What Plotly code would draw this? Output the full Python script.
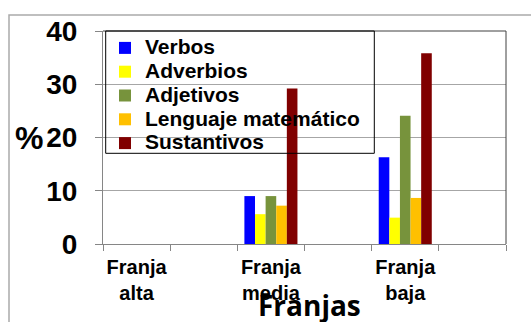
import plotly.graph_objects as go

# Categories (bands) and percentage of each word type per band
franjas = ["Franja alta", "Franja media", "Franja baja"]
verbos = [0, 9.0, 16.3]
adverbios = [0, 5.6, 4.95]
adjetivos = [0, 9.0, 24.1]
lenguaje_matematico = [0, 7.2, 8.65]
sustantivos = [0, 29.2, 35.8]

series = [
    ("Verbos", verbos, "#0000FF"),
    ("Adverbios", adverbios, "#FFFF00"),
    ("Adjetivos", adjetivos, "#77933C"),
    ("Lenguaje matemático", lenguaje_matematico, "#FFC000"),
    ("Sustantivos", sustantivos, "#800000"),
]

# Each band is followed by an empty slot on the category axis
slots = []
for i, f in enumerate(franjas):
    slots.append(f.replace(" ", "<br>"))
    slots.append(" " * (i + 1))

fig = go.Figure()
for name, vals, color in series:
    y = []
    for v in vals:
        y.extend([v, None])
    fig.add_trace(go.Bar(
        x=slots, y=y,
        name=f'<span style="font-size:21px">{name}</span>',
        marker=dict(color=color, line=dict(width=0)),
    ))

W, H = 531, 322
L, R, T, B = 103, 25, 31, 78
pw, ph = W - L - R, H - T - B


def px(xp):
    return (xp - L) / pw


def py(yp):
    return (H - B - yp) / ph


fig.update_layout(
    width=W, height=H,
    margin=dict(l=L, r=R, t=T, b=B),
    paper_bgcolor="white", plot_bgcolor="white",
    barmode="group", bargap=0.21, bargroupgap=0,
    font=dict(family="Liberation Sans, Arial, sans-serif", color="black"),
    showlegend=True,
    legend=dict(
        x=px(105), y=1.0, xanchor="left", yanchor="top",
        bgcolor="rgba(0,0,0,0)", borderwidth=0,
        font=dict(size=16, weight="bold", color="black"),
        tracegroupgap=0,
    ),
    xaxis=dict(
        type="category", categoryorder="array", categoryarray=slots,
        range=[-0.5, 5.5], automargin=False, tickangle=0,
        tickson="boundaries", ticks="outside", ticklen=6,
        tickcolor="#868686", showline=True, linecolor="#868686", linewidth=1,
        showgrid=False,
        tickfont=dict(size=20, weight="bold", color="black"),
        ticklabelstandoff=5,
    ),
    yaxis=dict(
        range=[0, 40], dtick=10, tick0=0, automargin=False,
        ticks="outside", ticklen=7, tickcolor="#868686",
        showline=True, linecolor="#868686", linewidth=1,
        showgrid=True, gridcolor="#A6A6A6", gridwidth=1,
        zeroline=False,
        tickfont=dict(size=28, weight="bold", color="black"),
        ticklabelstandoff=12,
    ),
    shapes=[
        # plot area frame (top and right)
        dict(type="line", xref="paper", yref="paper", x0=0, x1=1, y0=1, y1=1,
             line=dict(color="#404040", width=1)),
        dict(type="line", xref="paper", yref="paper", x0=1, x1=1, y0=0, y1=1,
             line=dict(color="#404040", width=1)),
        # legend box
        dict(type="rect", xref="paper", yref="paper",
             x0=px(105.7), x1=px(374.3), y0=py(153.3), y1=1.0,
             line=dict(color="black", width=1), fillcolor="rgba(0,0,0,0)"),
        # chart area border
        dict(type="path", xref="paper", yref="paper",
             path=f"M {px(9)} {py(400)} L {px(9)} {py(15)} L {px(600)} {py(15)}",
             line=dict(color="#ABABAB", width=1.5)),
    ],
    annotations=[
        dict(text="%", xref="paper", yref="y", x=px(29), y=20,
             showarrow=False, xanchor="center", yanchor="middle",
             font=dict(size=32, weight="bold", color="black")),
        dict(text="Franjas", xref="paper", yref="paper", x=px(309), y=py(305),
             showarrow=False, xanchor="center", yanchor="middle",
             font=dict(family="Open Sans, sans-serif", size=28, weight="bold",
                       color="black")),
    ],
)

fig.write_html("out.html")
